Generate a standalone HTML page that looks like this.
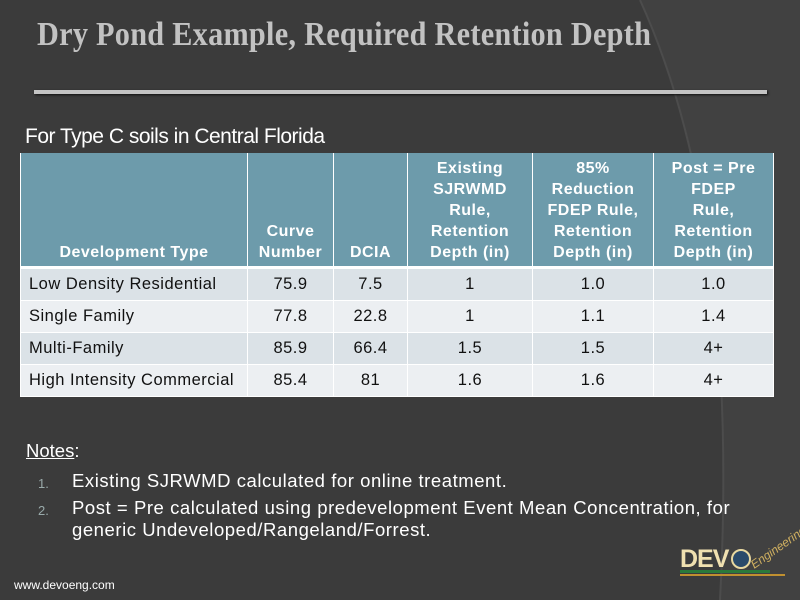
<!DOCTYPE html>
<html><head><style>
html,body{margin:0;padding:0;width:800px;height:600px;overflow:hidden}
body{position:relative;background:#3b3b3b;font-family:"Liberation Sans",sans-serif}
.t{position:absolute;left:37px;top:16px;font-family:"Liberation Serif",serif;font-weight:bold;font-size:34px;color:#c2c2c2;letter-spacing:0.3px;transform:scaleX(0.89);transform-origin:left top;white-space:nowrap}
.rule{position:absolute;left:34px;top:90px;width:733px;height:4px;background:#c4c4c4;box-shadow:1px 1px 2px #111}
.sub{position:absolute;left:25px;top:125px;font-size:21px;color:#fff;letter-spacing:-0.5px}
table{position:absolute;left:20px;top:153px;border-collapse:collapse;font-size:16.5px;letter-spacing:0.5px}
td,th{padding:0;border-left:1px solid #fff;border-right:1px solid #fff}
th{background:#6d9bab;color:#fff;font-weight:bold;vertical-align:bottom;text-align:center;line-height:21px;padding-bottom:3px;height:110px;font-size:16px;letter-spacing:0.5px;border-bottom:3px solid #fff}
td{height:31px;text-align:center;color:#111;border-bottom:1px solid #fff}
td:first-child{text-align:left;padding-left:8px}
tr.a td{background:#dbe2e7}
tr.b td{background:#eceff2}
.notes{position:absolute;left:26px;top:440px;font-size:18.5px;color:#fff}
.li{position:absolute;font-size:18.5px;letter-spacing:0.55px;color:#fff;white-space:nowrap}
.num{position:absolute;font-size:13px;color:#9aa}
.web{position:absolute;left:14px;top:578px;font-size:12px;color:#fff}
</style></head><body>
<svg width="800" height="600" style="position:absolute;left:0;top:0">
<path d="M640,0 Q740,220 720,600 L800,600 L800,0 Z" fill="#414141"/>
<path d="M640,0 Q740,220 720,600" fill="none" stroke="#4c4c4c" stroke-width="2"/>
</svg>
<div class="t">Dry Pond Example, Required Retention Depth</div>
<div class="rule"></div>
<div class="sub">For Type C soils in Central Florida</div>
<table>
<tr><th style="width:226px">Development Type</th><th style="width:85px">Curve<br>Number</th><th style="width:73px">DCIA</th><th style="width:124px">Existing<br>SJRWMD<br>Rule,<br>Retention<br>Depth (in)</th><th style="width:120px">85%<br>Reduction<br>FDEP Rule,<br>Retention<br>Depth (in)</th><th style="width:119px">Post = Pre<br>FDEP<br>Rule,<br>Retention<br>Depth (in)</th></tr>
<tr class="a"><td>Low Density Residential</td><td>75.9</td><td>7.5</td><td>1</td><td>1.0</td><td>1.0</td></tr>
<tr class="b"><td>Single Family</td><td>77.8</td><td>22.8</td><td>1</td><td>1.1</td><td>1.4</td></tr>
<tr class="a"><td>Multi-Family</td><td>85.9</td><td>66.4</td><td>1.5</td><td>1.5</td><td>4+</td></tr>
<tr class="b"><td>High Intensity Commercial</td><td>85.4</td><td>81</td><td>1.6</td><td>1.6</td><td>4+</td></tr>
</table>
<div class="notes"><u>Notes</u>:</div>
<div class="num" style="left:38px;top:476px">1.</div>
<div class="li" style="left:72px;top:470px">Existing SJRWMD calculated for online treatment.</div>
<div class="num" style="left:38px;top:503px">2.</div>
<div class="li" style="left:72px;top:497px;line-height:22px">Post = Pre calculated using predevelopment Event Mean Concentration, for<br>generic Undeveloped/Rangeland/Forrest.</div>
<div class="web">www.devoeng.com</div>
<div style="position:absolute;left:680px;top:545px;font-weight:bold;font-size:25px;color:#f0e0b0;letter-spacing:-1px">DEV</div>
<div style="position:absolute;left:731px;top:549px;width:16px;height:16px;border:2px solid #e8d8a0;border-radius:50%;background:#2a4a6a"></div>
<div style="position:absolute;left:680px;top:570px;width:90px;height:3px;background:#2a7a3a"></div>
<div style="position:absolute;left:680px;top:574px;width:105px;height:2px;background:#c09030"></div>
<div style="position:absolute;left:748px;top:560px;font-size:12px;font-style:italic;color:#d0b060;transform:rotate(-35deg);transform-origin:left top">Engineering</div>
</body></html>
